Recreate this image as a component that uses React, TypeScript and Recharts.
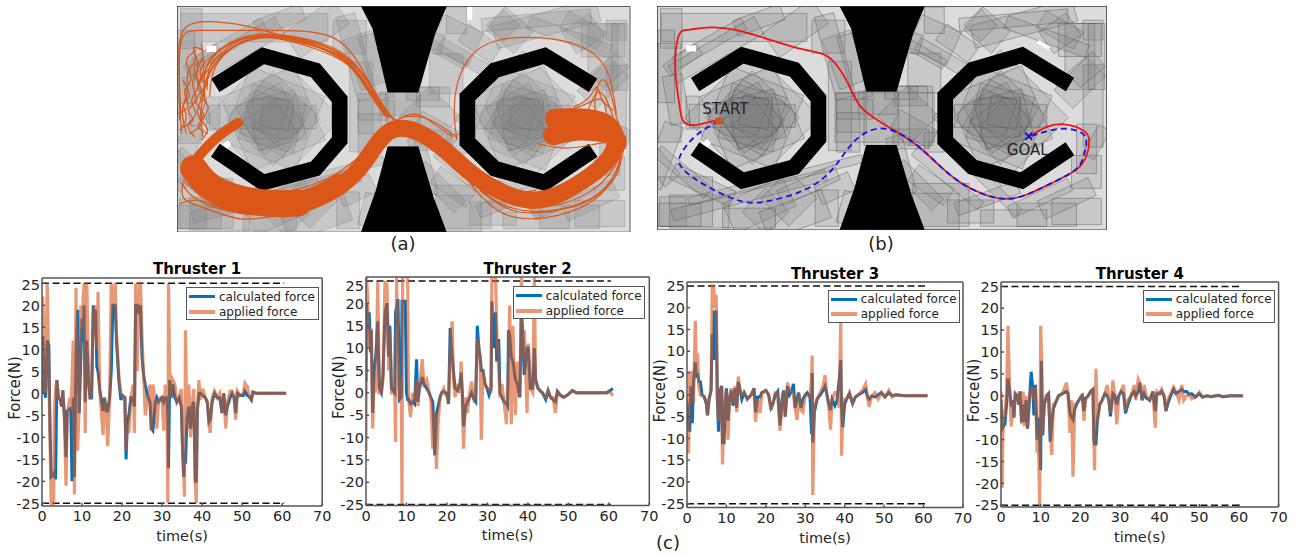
import React from 'react';
import { LineChart, Line, XAxis, YAxis, ReferenceLine, Legend, ScatterChart, Scatter, ZAxis } from 'recharts';

type Row = [number, number, number];
type Pt = [number, number];
type Box = [number, number, number, number, number];

const FONT = "'DejaVu Sans', sans-serif";
const xTicks = [0, 10, 20, 30, 40, 50, 60, 70];
const yTicks = [-25, -20, -15, -10, -5, 0, 5, 10, 15, 20, 25];

// [time, calculated force, applied force]
const thruster1: Row[] = [[0,0,0],[0.2,13,22],[0.6,1,10],[0.9,-1,0],[1.3,12,25],[1.7,11,6],[2.0,-8,-10],[2.3,-19,-25],[2.9,-18.5,-25],[3.1,-18,-4],[3.4,-19.5,1],[3.7,3,3],[4.1,-1,-1],[4.6,-1.5,-1.5],[4.9,-3,-3],[5.2,0.7,0.7],[5.6,-5,-6],[6.0,-14.5,-21],[6.3,-4,-6],[6.9,-3.5,-1],[7.2,-3.5,-4],[7.5,-20,3],[7.8,-1,12],[8.1,-19,-23],[8.5,8,24],[8.9,19,-13],[9.3,-4.5,-3],[9.7,8,20],[10.0,17,15],[10.3,12,22],[10.5,20,25],[10.8,-2,-9],[11.2,12,25],[11.6,3,5],[12.0,-1,-1.5],[12.4,-1,1],[12.8,20,18],[13.1,14,20],[13.4,19,15],[13.7,6,10],[14.0,5,23],[14.4,1,1],[15.25,-4,-9.5],[15.6,-1,-1],[16.1,-4,-4],[16.4,-4,-12],[16.9,-1,-1],[17.3,5,25],[17.7,20,20],[18.3,20,25],[18.6,12,14],[19.2,3,4],[19.7,-1.5,0],[20.1,-0.5,-0.5],[20.7,-1,-1],[21.0,-15,-13],[21.3,-7,-7],[21.7,-5,-9],[22.2,-1,-1],[22.8,-1,2],[23.1,-3,-9],[23.4,20,25],[23.8,20,5],[24.3,18,25],[24.6,20,25],[25,8,12],[25.4,4,4],[25.8,2,-5],[26.5,-1,-1],[27.0,-2,2],[27.3,-8,-8.5],[27.7,-8.5,2],[28.3,-2,-2],[28.7,-1,-8],[29.1,-2,-2],[29.6,-1.5,-1],[30.0,-1,-1],[30.4,-2,-8.5],[30.8,-1,2],[31.2,-1,-1],[31.45,-5,-25],[31.6,-17,25],[31.9,3,5],[32.3,-1,-1],[32.7,2,3],[33.2,-1,2],[33.7,-2,-2],[34.3,-1,-1],[34.8,-3,1],[35.1,-12,-12],[35.4,-19,-19],[35.6,-14,-23.5],[35.85,-16,14.3],[36.2,-6,-8],[36.7,-3,2],[37.1,-8,-10],[37.5,-3,-3],[37.9,-2,1],[38.3,-20,-20],[38.55,-20,-25],[38.8,-4,-4],[39.2,0,3],[39.6,0,-1.5],[40.2,-0.5,1],[40.8,-1,-1],[41.3,-2,-2],[41.7,-6.5,-6],[42,-6,-9],[42.5,-2,-1],[43.1,0,0.5],[43.8,-1,-1],[44.4,-1,0],[45,-4.5,-4.5],[45.4,0,0],[45.9,-5,-8],[46.3,-3,-2],[47,-1,0.5],[47.5,0,0.5],[48,-1,-1],[48.4,-4.5,-6],[48.8,0,0.5],[49.5,-0.5,-0.5],[50.3,-0.5,0],[50.7,0.5,2.3],[51.3,-0.5,1.5],[51.8,-0.8,-0.8],[52.3,-1.5,-1.5],[52.7,0.3,0.3],[53.5,0,0],[58,0,0],[61,0,0]];
const thruster2: Row[] = [[0,2.5,-13],[0.1,20,26],[0.4,14,22],[0.8,18,10],[1.1,9,14],[1.3,14,14],[1.65,-4.5,-8],[2.0,5,3],[2.4,8,0],[2.9,16,25],[3.3,1,0],[3.8,0,0],[4.2,4,3],[4.7,18,25],[5.2,20,24],[5.6,8,5],[5.9,15,14],[6.3,1,0],[7.1,0,0],[7.3,18,-11],[7.55,19,26],[7.9,21,8],[8.3,-1.5,-1.5],[8.7,-1,0],[8.9,20.5,-25],[9.05,20.5,26],[9.7,20.5,26],[10.0,0,26],[10.3,-1.5,26],[10.5,-1.5,-1],[11,-2.5,-5.5],[11.5,-2,0],[12,-2.5,-2],[12.5,7.5,3],[12.8,-2,-3],[13.2,1,1],[13.9,3.5,7.5],[14.3,2,2],[15,1,3],[15.6,0,0],[16,-1,-1],[16.5,-2,-12.5],[17.0,-14,-4],[17.4,-5,-17],[17.8,-3,-7],[18.3,-1,-1],[18.7,0,0],[19.2,0.3,1],[19.7,0,-0.5],[20.1,-0.5,-1],[20.4,-2.5,-2.5],[20.8,14.5,9],[21.3,8,16],[21.6,5,3],[22.0,1,-1],[22.6,0.5,2],[23.2,2,0],[23.5,4.5,7],[23.8,0,-1],[24.1,-7.5,-12.5],[24.6,-3,-1],[25.1,-2,-4.5],[25.6,-1,0],[26.1,0,2.5],[26.7,-1.5,-1.5],[27.1,-2,-1],[27.5,15,12],[27.9,10,10],[28.2,8,8],[28.5,5,-10.5],[28.9,5,5],[29.4,2,2],[29.9,1,1],[30.4,-0.5,1],[30.9,1,0],[31.1,20.5,26],[31.5,10,26],[32,18,26],[32.3,7,14],[32.8,12,5],[33.1,0,-1],[33.6,-1,2],[34.1,-2,-2],[34.7,-2.5,-7],[35,-3,1],[35.2,14,5],[35.5,13,19.5],[35.9,8,-7],[36.3,7,15],[36.9,3,-5],[37.4,2,7],[38,-1,-1],[38.4,18,26],[38.7,14,8],[39.1,4,14],[39.5,7,4],[39.8,10,-4.5],[40.1,10,11],[40.6,1,1],[41.2,1,0],[41.6,10,26],[41.9,3,3],[42.5,1,1],[43,0.5,0.5],[43.6,0,0],[44.4,-1.5,-1],[45,0.5,0.5],[45.6,-1,-1],[46.2,-1.5,-1],[46.8,-2,-4.5],[47.3,0.3,0.3],[48,-0.5,-0.5],[48.8,-1,-1],[49.8,-0.5,-0.5],[51,0.5,0.5],[52,0,0],[55,0,0],[58,0,0],[59.5,0,0],[60.3,0.5,0.3],[61,1,-0.7]];
const thruster3: Row[] = [[0,-1.5,0],[0.4,-7,-13.5],[0.7,-8.5,5.5],[1.0,2,1],[1.35,-6.5,5.5],[1.65,3,-2],[2.1,7.5,17],[2.4,4,5],[2.65,5,9.5],[3,3,2],[3.4,3,0],[3.8,0,0],[4.4,-0.5,-0.5],[4.9,-2,-2],[5.2,-4.7,-4.7],[5.6,-1,-1],[6.1,1,1],[6.4,14,25],[6.8,8,25],[6.9,19,20],[7.4,19,23],[7.7,-1,-1],[8.0,-8.5,-6],[8.4,1,1],[8.8,2,2],[9,-11,-16],[9.4,-11,-5],[9.7,-2,-1],[10,1.5,1],[10.4,-6,-10.3],[10.8,-1,-1],[11.2,1,1.5],[11.7,-2.5,-2],[12.2,1.5,2],[12.6,-3,-4],[13,3,4.2],[13.4,1.5,1],[13.9,-1,0],[14.5,0.5,0.5],[15.3,-1,-1],[16.3,0,0],[17,1.5,1.5],[17.4,-4,-6.2],[17.9,-0.5,-1],[18.5,-0.5,-4.2],[19,0.5,0.5],[20,1,1],[20.7,0,0],[21.3,-3,-3.5],[21.8,-2,-2],[22.4,0,0.5],[23,0.8,0.5],[23.6,-7,-8.3],[24.1,-1,-2],[24.5,1,1],[24.9,-5,-5],[25.5,2,2.8],[26,0,1],[26.6,1,1],[27,2.5,0],[27.4,-3,-3],[27.9,-1,-5.8],[28.3,0.5,0.5],[28.9,-3,-3.5],[29.4,-1,-4],[30,0,0],[30.5,0.5,0],[31.2,-0.5,-0.5],[31.6,-9,4],[31.75,5,9],[31.9,-11,-23],[32.3,-4,-3],[33,-1,-1],[33.8,0,0.5],[34.5,1,2],[35,2,4.5],[35.4,0.5,0.5],[35.9,-2,-2],[36.4,-3.5,-8],[36.8,-1,-1],[37.5,-2.5,0.5],[38,-1.5,0.5],[38.6,3.5,-3],[39,8,17.5],[39.2,-3,-14],[39.5,-7.5,-5],[40,-2,-1],[40.5,-1,-1],[41.2,0.3,0.5],[42,-2,-2],[42.7,-0.5,-0.5],[43.5,0,0],[44.5,0.5,1],[45.3,1.2,2.5],[45.8,-0.5,-0.5],[46.2,-1,-2.8],[46.8,-0.3,-0.3],[47.7,-0.5,0.5],[48.5,0,-1],[49.3,0.5,0.5],[50.2,-0.5,-0.5],[51.2,0.5,1],[52,-0.2,-0.5],[53,0,0],[55,-0.2,-0.2],[58,-0.2,-0.2],[61,-0.2,-0.2]];
const thruster4: Row[] = [[0,-1,1],[0.3,-7.5,-21],[0.6,-7,-3],[1,-6.5,-5],[1.4,-2,1],[1.75,4,16],[2.2,1,1],[2.6,-2.5,-7],[3,-1,-1],[3.25,-5,-5],[3.6,0.5,0.5],[4.1,0,0],[4.5,-2,-2],[4.8,1,1],[5.2,-6,-6.5],[5.6,-2,1],[5.9,-6,-7],[6.3,-1,0],[6.7,-7.5,-7.5],[7.1,-2,-1],[7.6,5.5,2],[8,2,1],[8.3,-4.5,-1],[8.7,2.5,2],[9.1,-10,-13],[9.4,-5,-9],[9.75,-10,-25],[10,-17,16],[10.2,8,10],[10.5,-9,-9],[10.9,-2,-2],[11.5,0,0],[12,0.5,0.5],[12.4,-10.5,-8],[12.8,-6,-13.5],[13.2,-3,-2],[13.8,-1.5,-1.5],[14.5,0,0],[15.5,0.5,0.5],[16.5,1,3],[16.9,0.5,0.5],[17.4,-4,-8.5],[17.8,-5,-1],[18.15,-5.5,-18.5],[18.6,-3,-2],[19.3,-1.5,-1.5],[20,-0.5,-0.5],[20.5,0,0.5],[20.9,-3.5,-5.7],[21.3,-0.5,-1],[22,0,0],[22.6,1,1],[23.2,1.5,1.5],[23.4,-10,-10],[23.6,-11,-17],[23.95,-11,6.2],[24.3,-5.5,-6],[24.9,-2,-2],[25.5,-1,-1],[26.2,0.5,0.5],[26.8,0,2.5],[27.2,-1,-1],[27.6,-4.7,-4],[28.2,0.5,3.5],[28.7,0,0],[29.2,-2,-6.5],[29.7,0,0],[30.3,1,1],[30.9,0.5,2.5],[31.4,-4,-3.5],[32,-2,-1],[32.8,0,0],[33.6,1,2.5],[34,0,-1],[34.6,1,3.8],[35,3,3],[35.6,-1,-1],[36.1,0.5,2.5],[36.6,-0.5,0],[37.5,-1,-1],[38.3,1,1],[38.9,-3.5,-7.3],[39.3,0.5,1],[40,0.5,0.5],[40.5,1,1.5],[41.1,0,0],[41.6,-3.5,-3.5],[42,-2,-1],[42.8,0,0.5],[43.5,1.5,2],[44.1,0.5,1],[44.9,1,-1],[45.6,1.5,2.5],[46.1,1,-1],[46.8,1,0],[47.5,0.3,0.3],[48.1,0.5,-0.7],[49,-0.3,-0.3],[50,0.5,0.8],[50.8,-0.3,-0.3],[52,0,0],[53,-0.2,-0.2],[54.8,0.1,0.1],[56,-0.2,-0.2],[58,0,0],[61,0,0]];

// Map geometry, in map units
const leftRing: Pt[] = [[137,255],[280,166],[437,210],[510,297],[510,420],[437,505],[280,547],[137,450]];
const rightRing: Pt[] = [[1270,255],[1125,166],[975,210],[893,290],[893,425],[975,505],[1125,547],[1270,450]];
const funnelTop: Pt[] = [[575,17],[830,17],[795,100],[745,275],[655,275],[610,85]];
const funnelBottom: Pt[] = [[655,440],[745,440],[790,590],[830,697],[575,697],[620,570]];
const perimeterBoxes: Box[] = [[255,82,440,85,0],[65,85,65,120,0],[330,60,150,50,-20],[540,110,100,100,0],[440,85,180,90,-35],[180,130,240,40,-30],[60,280,70,300,0],[70,640,80,90,0],[105,610,170,150,0],[40,470,60,200,20],[150,640,180,100,0],[330,620,200,100,-25],[350,640,100,100,45],[535,630,70,110,0],[560,570,110,60,-25],[300,590,480,35,-15],[575,320,70,270,0],[610,340,90,120,0],[590,180,90,160,-20],[860,120,130,110,25],[830,220,100,120,0],[880,170,160,40,30],[790,290,100,60,0],[1130,70,320,70,-15],[1020,90,110,90,40],[1300,170,90,200,0],[1340,90,60,60,0],[1340,320,60,250,0],[1300,250,140,80,-45],[1240,90,130,60,30],[1290,640,150,80,0],[1200,650,180,70,0],[880,620,170,130,0],[970,640,140,70,0],[850,560,130,60,35],[1020,600,200,40,-20],[1320,520,90,100,0],[1100,660,200,50,0],[900,540,260,30,40],[700,357,105,165,0],[690,310,120,70,0],[790,420,110,60,0],
  [380,545,540,25,-14],[560,170,60,260,-15],[620,200,60,200,-15],[100,180,120,40,-35],[200,150,300,60,-30],[80,300,60,150,-10],[50,200,50,220,0],[130,340,40,100,0],[30,500,60,120,-40],[100,520,200,40,40],[160,560,200,50,25],[90,650,130,70,0],[300,660,160,60,0],[440,650,200,90,-20],[480,560,190,50,-25],[420,600,120,120,45],[600,630,50,100,15],[760,500,50,180,-15],[810,560,170,50,45],[860,640,150,110,0],[1030,560,240,30,45],[1180,600,200,40,-25],[1260,600,170,60,-25],[1320,450,60,150,0],[1350,430,40,100,30],[1300,120,130,100,0],[1320,210,100,60,-40],[1200,110,260,40,20],[1100,60,330,40,-5],[1000,75,70,70,45],[1240,100,100,80,-35],[930,130,120,60,35],[860,60,60,80,0],[800,130,40,60,15],[830,160,140,30,30],[1350,170,50,200,0],[620,330,110,60,0],[600,400,70,120,0],[780,350,130,130,45],[760,280,100,40,0],[800,390,130,60,30],[860,430,60,60,0]];
const centreBoxesB: Box[] = [[710,355,300,150,0],[820,350,70,180,0]];
const starBoxes: Box[] = [[310,355,290,290,45],[310,355,240,240,22],[310,355,240,240,67],[310,355,200,200,45],[310,355,170,170,15],[310,355,170,170,30],[300,350,150,150,60],[320,360,150,150,75],[310,355,120,120,0],[290,340,110,110,20],[330,370,110,110,40],[280,350,320,70,0],[300,380,120,120,55],[320,340,90,90,10],[1060,355,290,290,45],[1060,355,240,240,22],[1060,355,240,240,67],[1060,355,200,200,45],[1060,355,170,170,15],[1060,355,170,170,30],[1050,350,150,150,60],[1070,360,150,150,75],[1060,355,120,120,0],[1040,340,110,110,20],[1080,370,110,110,40],[1060,350,280,70,0],[1050,380,120,120,55],[1070,340,90,90,10]];
const whiteGapsA: Box[] = [[125,146,30,18,0],[170,435,25,18,-40],[490,400,10,30,0],[1212,225,60,35,40],[1128,565,50,10,10],[900,38,15,40,0],[790,595,10,20,0]];
const whiteGapsB: Box[] = [[125,146,30,18,0],[170,435,25,18,-40],[1212,225,60,35,40],[1190,135,40,12,30]];
const thickBands: [number, Pt[]][] = [
  [10, [[205,368],[160,395],[120,430],[85,470]]],
  [17, [[70,495],[80,540],[140,585],[220,610],[300,622],[400,615],[500,570],[570,510],[620,430],[660,385],[710,380],[780,410],[850,470],[920,535],[1000,580],[1090,610],[1180,580],[1260,530],[1320,480],[1345,420]]],
  [27, [[72,505],[120,570],[230,604],[330,612],[385,608]]],
  [21, [[350,612],[430,598],[510,552]]],
  [20, [[1155,355],[1250,352],[1325,370],[1340,430]]],
  [20, [[1150,405],[1230,385],[1330,400]]],
];
const thinCurves: Pt[][] = [
  [[110,260],[80,210],[120,170],[200,115],[290,100],[420,125],[530,170],[590,260],[650,345],[690,370]],
  [[105,300],[100,200],[140,150],[220,105],[300,98],[430,115],[540,160],[600,250],[660,350]],
  [[35,400],[30,250],[25,130],[40,70],[120,60],[230,75],[300,95],[420,130],[525,165],[580,240],[640,330],[680,360]],
  [[30,360],[28,200],[30,90],[90,90],[180,90],[290,90],[400,90],[500,105],[560,170],[610,270],[665,350]],
  [[90,360],[105,240],[150,165],[230,110],[320,105],[440,135],[540,185],[600,275],[655,355]],
  [[120,290],[125,210],[170,150],[240,108],[330,110],[450,140],[545,175],[595,245],[645,335]],
  [[100,280],[110,220],[160,160],[235,112],[325,102],[445,128],[535,168],[598,262],[650,345]],
  [[112,270],[115,195],[145,165],[225,103],[315,100],[435,120],[548,172],[605,258],[658,352]],
  [[95,240],[130,180],[205,125],[300,105],[425,122],[528,160],[585,248],[642,340]],
  [[85,260],[125,160],[210,110],[310,108],[430,140],[550,190],[590,270],[648,350]],
  [[50,400],[30,320],[60,280],[45,210],[90,180],[60,130],[100,150]],
  [[100,410],[90,330],[120,300],[70,260],[110,220],[95,130]],
  [[30,390],[60,350],[30,310],[70,290],[40,240]],
  [[60,400],[110,370],[70,340],[110,280],[70,230],[100,170]],
  [[40,380],[85,360],[40,330],[95,300],[55,250],[95,200],[70,150]],
  [[75,410],[40,370],[95,345],[50,300],[100,260],[60,200],[100,180]],
  [[115,400],[70,380],[120,340],[60,310],[115,250]],
  [[25,340],[70,320],[30,270],[80,240],[35,180],[80,150]],
  [[95,420],[125,385],[85,365],[130,320],[90,290]],
  [[862,420],[850,340],[860,240],[900,160],[970,115],[1100,107],[1240,130],[1310,190],[1330,270],[1340,340]],
  [[1280,360],[1270,300],[1295,220],[1320,260],[1340,350]],
  [[1210,320],[1260,300],[1285,240],[1290,300],[1330,330]],
  [[1150,340],[1240,320],[1300,280],[1310,340]],
  [[1250,345],[1280,260],[1310,290],[1330,350]],
  [[1330,380],[1370,430],[1350,500],[1300,590],[1200,640],[1100,660],[1000,650],[930,590],[860,490]],
  [[1340,400],[1360,470],[1340,540],[1260,610],[1130,640],[1020,640],[930,570]],
  [[1350,420],[1355,490],[1310,570],[1220,620],[1100,640],[990,620],[900,540]],
  [[1340,350],[1365,420],[1340,500],[1280,570],[1180,615],[1080,625]],
  [[1105,430],[1190,450],[1280,430],[1345,420]],
  [[40,550],[30,600],[100,620],[210,665],[300,650],[420,630],[530,560],[610,480]],
  [[40,540],[100,600],[210,640],[320,640],[440,610],[560,510],[630,430]],
  [[35,545],[60,590],[150,630],[260,650],[380,630]],
  [[30,610],[90,590],[180,640],[290,640],[430,590],[560,500]],
  [[280,590],[380,570],[500,530],[590,450]],
  [[680,360],[740,330],[790,370],[850,410]],
  [[700,350],[760,345],[820,380],[860,410]],
  [[900,550],[960,570],[1040,580],[1100,570]],
];
const redPath: Pt[] = [[205,362],[180,362],[140,377],[95,372],[90,330],[80,270],[72,190],[80,110],[95,88],[110,90],[180,78],[250,85],[350,115],[450,148],[520,157],[555,185],[590,240],[625,320],[660,345],[720,385],[800,430],[870,500],[930,550],[1000,585],[1070,601],[1130,585],[1200,550],[1285,510],[1310,470],[1320,420],[1310,390],[1240,367],[1190,375],[1135,410]];
const bluePath: Pt[] = [[205,362],[130,405],[90,460],[80,490],[120,530],[200,575],[290,615],[370,600],[460,575],[530,530],[575,470],[610,420],[660,385],[720,380],[800,430],[870,500],[930,550],[1000,585],[1070,601],[1130,585],[1200,550],[1285,510],[1300,470],[1312,420],[1300,395],[1240,380],[1180,395],[1135,410]];
const startPoint: Pt = [205,362];
const goalPoint: Pt = [1135,408];
const startLabelPoint: Pt = [225,325];
const goalLabelPoint: Pt = [1132,447];

const MAP_X: [number, number] = [22, 1382];
const MAP_Y: [number, number] = [17, 697];
const asPts = (p: Pt[]) => p.map(([x, y]) => ({ x, y }));
const toMapB = (p: Pt): Pt => [22 + (p[0] - 20) * 1.0074, 17 + (p[1] - 17) * 1.0104];
const corners = ([cx, cy, w, h, a]: Box): Pt[] => {
  const r = (a * Math.PI) / 180, c = Math.cos(r), s = Math.sin(r);
  return ([[-w/2,-h/2],[w/2,-h/2],[w/2,h/2],[-w/2,h/2],[-w/2,-h/2]] as Pt[]).map(([u, v]) => [cx + u*c - v*s, cy + u*s + v*c] as Pt);
};
const Empty = () => <g />;

const poly = (key: string, pts: Pt[], line: any, joint: string = 'linear') => (
  <Scatter key={key} data={asPts(pts)} dataKey="y" shape={Empty} line={line} lineJointType={joint as any} isAnimationActive={false} />
);

function MapPanel({ left, top, width, height, edge, rectFill, starFill, gaps, extra, children }: any) {
  const boxes = (prefix: string, list: Box[], fill: string) =>
    list.map((b, i) => poly(prefix + i, corners(b), { fill, stroke: edge, strokeWidth: 1 }));
  return (
    <div style={{ position: 'absolute', left, top }}>
      <ScatterChart width={width} height={height} margin={{ top: 0, right: 0, bottom: 0, left: 0 }}>
        <XAxis dataKey="x" type="number" domain={MAP_X} allowDataOverflow hide />
        <YAxis dataKey="y" type="number" domain={MAP_Y} allowDataOverflow reversed hide />
        <ZAxis range={[44, 44]} />
        {poly('bg', corners([702, 357, 1360, 680, 0]), { fill: '#dcdcdc', stroke: 'none' })}
        {boxes('p', perimeterBoxes, rectFill)}
        {boxes('x', extra, rectFill)}
        {boxes('s', starBoxes, starFill)}
        {gaps.map((b: Box, i: number) => poly('w' + i, corners(b), { fill: '#fff', stroke: 'none' }))}
        {poly('fa', funnelTop.concat([funnelTop[0]]), { fill: '#000', stroke: '#000' })}
        {poly('fb', funnelBottom.concat([funnelBottom[0]]), { fill: '#000', stroke: '#000' })}
        {poly('rl', leftRing, { stroke: '#000', strokeWidth: 15.7, strokeLinejoin: 'miter', fill: 'none' })}
        {poly('rr', rightRing, { stroke: '#000', strokeWidth: 15.7, strokeLinejoin: 'miter', fill: 'none' })}
        {children}
        {poly('frame', corners([702, 357, 1360, 680, 0]), { fill: 'none', stroke: '#333', strokeWidth: 1.5 })}
      </ScatterChart>
    </div>
  );
}

const legendContent = () => (
  <div style={{ width: 132.5, height: 32.7, boxSizing: 'border-box', background: '#fff', border: '1.5px solid #555', fontFamily: FONT, fontSize: 12, color: '#262626', position: 'relative' }}>
    {[['calculated force', '#0072BD', 3, 1], ['applied force', '#D95319', 4, 0.6]].map(([label, color, w, op]: any, i) => (
      <div key={label} style={{ position: 'absolute', left: 2, top: 1 + i * 15, height: 15, display: 'flex', alignItems: 'center', whiteSpace: 'nowrap' }}>
        <span style={{ display: 'inline-block', width: 26, height: w, background: color, opacity: op, marginRight: 4 }} />
        {label}
      </div>
    ))}
  </div>
);

function YTick({ x, y, payload, shift }: any) {
  const dy = payload.value === 25 ? shift : 0;
  return <text x={x} y={y + dy} dy="0.36em" textAnchor="end" fill="#262626" fontSize={14.5} fontFamily={FONT}>{payload.value}</text>;
}

function ForceChart({ title, rows, x0, x70, top, bottom, domain, legendLeft, legendTop, titleDx, titleLift, topShift }: any) {
  const data = rows.map(([t, calc, applied]: Row) => ({ t, calc, applied }));
  const lm = 40, tm = 24, rm = 15, bm = 45;
  const width = x70 - x0 + lm + rm, height = bottom - top + tm + bm;
  const left = x0 - lm, chartTop = top - tm;
  const axisStyle = { stroke: '#555', strokeWidth: 1.5 };
  return (
    <div style={{ position: 'absolute', left, top: chartTop }}>
      <LineChart width={width} height={height} data={data} margin={{ top: tm - 1, right: rm - 1, bottom: 0, left: 0 }}>
        <XAxis dataKey="t" type="number" domain={[0, 70]} ticks={xTicks} interval={0} allowDataOverflow height={bm} tickSize={-3} tickMargin={8} axisLine={axisStyle} tickLine={axisStyle}
          tick={{ fill: '#262626', fontSize: 14.5, fontFamily: FONT }}
          label={{ value: 'time(s)', position: 'insideBottom', offset: 10, style: { fill: '#262626', fontSize: 14.5, fontFamily: FONT } }} />
        <XAxis xAxisId="top" orientation="top" dataKey="t" type="number" domain={[0, 70]} ticks={xTicks} interval={0} allowDataOverflow height={1} tickSize={-3} tick={false} axisLine={axisStyle} tickLine={axisStyle}
          label={{ value: title, position: 'top', offset: titleLift, dx: titleDx, style: { fill: '#000', fontSize: 15, fontWeight: 700, fontFamily: FONT } }} />
        <YAxis type="number" domain={domain} ticks={yTicks} interval={0} allowDataOverflow width={lm} tickSize={-3} tickMargin={5} axisLine={axisStyle} tickLine={axisStyle}
          tick={<YTick shift={topShift} />}
          label={{ value: 'Force(N)', angle: -90, position: 'insideLeft', offset: 13, dy: -4, style: { fill: '#262626', fontSize: 15, fontFamily: FONT, textAnchor: 'middle' } }} />
        <YAxis yAxisId="right" orientation="right" type="number" domain={domain} ticks={yTicks} interval={0} allowDataOverflow width={1} tickSize={-3} tick={false} axisLine={axisStyle} tickLine={axisStyle} />
        <ReferenceLine segment={[{ x: 0, y: 25 }, { x: 60.5, y: 25 }]} stroke="#111" strokeWidth={1.5} strokeDasharray="7 3.5" />
        <ReferenceLine segment={[{ x: 0, y: -25 }, { x: 60.5, y: -25 }]} stroke="#111" strokeWidth={1.5} strokeDasharray="7 3.5" />
        <Line name="calculated force" dataKey="calc" stroke="#0072BD" strokeWidth={3} dot={false} isAnimationActive={false} />
        <Line name="applied force" dataKey="applied" stroke="#D95319" strokeOpacity={0.6} strokeWidth={3.2} dot={false} isAnimationActive={false} />
        <Legend layout="horizontal" verticalAlign="middle" align="center" content={legendContent}
          wrapperStyle={{ left: legendLeft - left, top: legendTop - chartTop, width: 132.5, height: 32.7 }} />
      </LineChart>
    </div>
  );
}

const captionStyle = (left: number, top: number): React.CSSProperties => ({
  position: 'absolute', left, top, width: 40, textAlign: 'center', fontFamily: FONT, fontSize: 18, lineHeight: '20px', color: '#222',
});

export default function App() {
  return (
    <div style={{ position: 'absolute', left: 0, top: 0, width: 1295, height: 555, background: '#fff', overflow: 'hidden' }}>
      <MapPanel left={177.3} top={5.7} width={453.4} height={226.6} edge="rgba(90,90,90,0.25)" rectFill="rgba(125,125,125,0.2)" starFill="rgba(125,125,125,0.14)" gaps={whiteGapsA} extra={[]}>
        {thickBands.map(([w, pts], i) => poly('tb' + i, pts, { stroke: '#DB5719', strokeWidth: w, strokeLinejoin: 'round', strokeLinecap: 'round', fill: 'none' }, 'basis'))}
        {thinCurves.map((pts, i) => poly('tc' + i, pts, { stroke: '#DB5719', strokeWidth: 1.2, fill: 'none' }, 'basis'))}
      </MapPanel>
      <MapPanel left={656.7} top={5.7} width={450} height={224.3} edge="rgba(85,85,85,0.45)" rectFill="rgba(125,125,125,0.2)" starFill="rgba(125,125,125,0.16)" gaps={whiteGapsB} extra={centreBoxesB}>
        {poly('red', redPath.map(toMapB), { stroke: '#F01414', strokeWidth: 1.8, fill: 'none' }, 'basis')}
        {poly('blue', bluePath.map(toMapB), { stroke: '#1414E6', strokeWidth: 1.8, strokeDasharray: '6 4', fill: 'none' }, 'basis')}
        <Scatter data={asPts([toMapB(startPoint)])} dataKey="y" fill="#D95319" isAnimationActive={false} />
        <Scatter data={asPts([toMapB(goalPoint)])} dataKey="y" isAnimationActive={false}
          shape={(p: any) => <path d={`M${p.cx-3.5},${p.cy-3.5}L${p.cx+3.5},${p.cy+3.5}M${p.cx-3.5},${p.cy+3.5}L${p.cx+3.5},${p.cy-3.5}`} stroke="#1414E6" strokeWidth={2} />} />
        <Scatter data={asPts([toMapB(startLabelPoint)])} dataKey="y" isAnimationActive={false}
          shape={(p: any) => <text x={p.cx} y={p.cy} dy="0.36em" textAnchor="middle" fontFamily={FONT} fontSize={15} fill="#222">START</text>} />
        <Scatter data={asPts([toMapB(goalLabelPoint)])} dataKey="y" isAnimationActive={false}
          shape={(p: any) => <text x={p.cx} y={p.cy} dy="0.36em" textAnchor="middle" fontFamily={FONT} fontSize={15} fill="#222">GOAL</text>} />
      </MapPanel>
      <div style={captionStyle(383, 234)}>(a)</div>
      <div style={captionStyle(861, 234)}>(b)</div>
      <div style={captionStyle(648, 533)}>(c)</div>
      <ForceChart title="Thruster 1" rows={thruster1} x0={41.5} x70={321.7} top={278} bottom={506} domain={[-25.6, 26.2]} legendLeft={186} legendTop={287.3} titleDx={15} titleLift={3} topShift={1.5} />
      <ForceChart title="Thruster 2" rows={thruster2} x0={365.7} x70={649} top={277} bottom={505.5} domain={[-25.2, 25.9]} legendLeft={512.7} legendTop={286} titleDx={20} titleLift={2} topShift={5} />
      <ForceChart title="Thruster 3" rows={thruster3} x0={687.3} x70={963.3} top={281.7} bottom={507.3} domain={[-25.9, 25.9]} legendLeft={827.7} legendTop={290} titleDx={10} titleLift={2} topShift={0} />
      <ForceChart title="Thruster 4" rows={thruster4} x0={1000.7} x70={1278.3} top={282.3} bottom={507.3} domain={[-25.4, 26]} legendLeft={1142.7} legendTop={290} titleDx={0} titleLift={2} topShift={0} />
    </div>
  );
}
